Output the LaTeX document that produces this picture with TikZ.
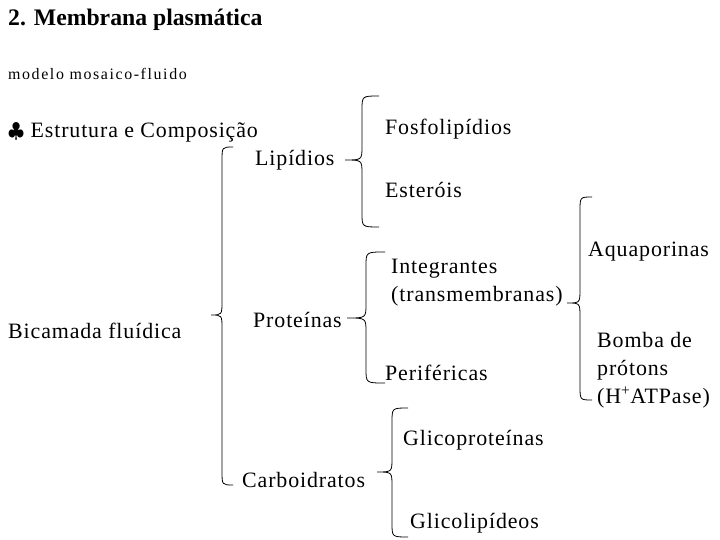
\documentclass[tikz,border=0pt]{standalone}
\usepackage{fontspec}
\setmainfont{Liberation Serif}[LetterSpace=4]
\newfontfamily\titfont{Liberation Serif}
\newfontfamily\modfont{Liberation Serif}[LetterSpace=10]

\begin{document}
\begin{tikzpicture}[x=1bp, y=-1bp, font=\fontsize{22}{28}\selectfont,
  rotulo/.style={anchor=base west, inner sep=0pt, align=left},
  chave/.style={line width=0.8bp}]

\useasboundingbox (0,0) rectangle (720,540);

\node[rotulo, font=\titfont\fontsize{23.8}{28}\selectfont\bfseries] (tit) at (8,26) {2. Membrana plasmática};
\node[rotulo, font=\modfont\fontsize{16}{18}\selectfont] (modelo) at (8,80) {modelo mosaico-fluido};
\node[rotulo] (estrut) at (8,138) {$\clubsuit$ Estrutura e Composição};
\node[rotulo] (bicam) at (8,338) {Bicamada fluídica};

\node[rotulo] (lipid) at (255,166) {Lipídios};
\node[rotulo] (prot) at (253,327) {Proteínas};
\node[rotulo] (carbo) at (242,487) {Carboidratos};

\node[rotulo] (fosfo) at (385,135) {Fosfolipídios};
\node[rotulo] (ester) at (385,198) {Esteróis};
\node[rotulo] (integ) at (391,301) {Integrantes\\(transmembranas)};
\node[rotulo] (perif) at (385,380) {Periféricas};
\node[rotulo] (glicoprot) at (403,445) {Glicoproteínas};
\node[rotulo] (glicolip) at (410,528) {Glicolipídeos};

\node[rotulo] (aqua) at (588,257) {Aquaporinas};
\node[rotulo] (bomba) at (597,403) {Bomba de\\prótons\\(H\textsuperscript{+}ATPase)};

% chaves
\draw[chave] (233,147) .. controls (222,147) .. (222,161) -- (222,301) .. controls (222,315) .. (211,315)
  .. controls (222,315) .. (222,329) -- (222,471) .. controls (222,485) .. (233,485);
\draw[chave] (379,96) .. controls (362,96) .. (362,110) -- (362,146) .. controls (362,160) .. (345,160)
  .. controls (362,160) .. (362,174) -- (362,213) .. controls (362,227) .. (379,227);
\draw[chave] (385,252) .. controls (366,252) .. (366,266) -- (366,304) .. controls (366,318) .. (347,318)
  .. controls (366,318) .. (366,332) -- (366,369) .. controls (366,383) .. (385,383);
\draw[chave] (592,197) .. controls (580,197) .. (580,211) -- (580,289) .. controls (580,303) .. (567,303)
  .. controls (580,303) .. (580,317) -- (580,386) .. controls (580,400) .. (592,400);
\draw[chave] (408,408) .. controls (392,408) .. (392,422) -- (392,458) .. controls (392,472) .. (377,472)
  .. controls (392,472) .. (392,486) -- (392,523) .. controls (392,537) .. (408,537);

\end{tikzpicture}
\end{document}
